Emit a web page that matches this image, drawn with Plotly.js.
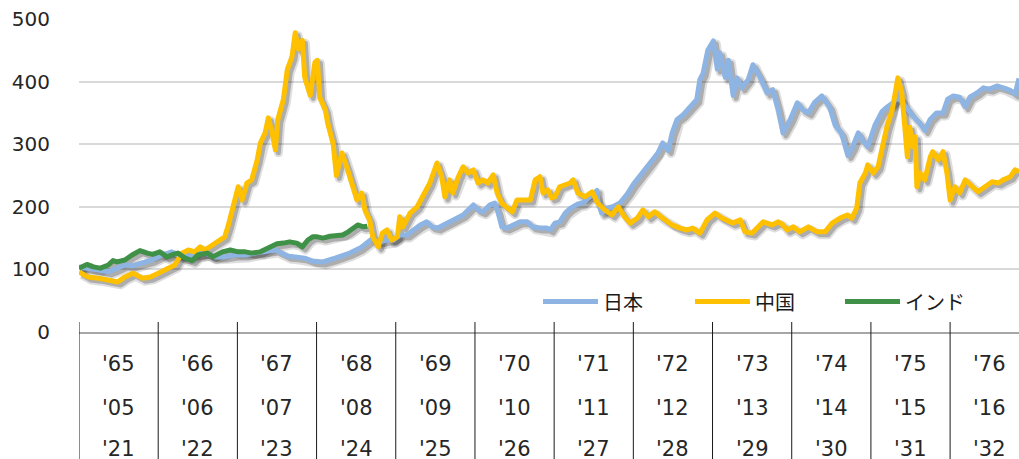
<!DOCTYPE html>
<html>
<head>
<meta charset="utf-8">
<script src="https://cdn.plot.ly/plotly-3.0.1.min.js"></script>
<style>
  html, body { margin: 0; padding: 0; background: #fff; }
  #chart { width: 1019px; height: 459px; }
</style>
</head>
<body>
<div id="chart"></div>
<script>
// ---- Data (x = years elapsed from the start of the first period) ----
const seriesNames = ["日本", "中国", "インド"];
const seriesColors = ["#8DB4E2", "#FFC000", "#3F9147"];

const japanT = [0.00,0.11,0.24,0.37,0.45,0.58,0.68,0.80,0.92,1.05,
 1.17,1.25,1.38,1.46,1.59,1.72,1.84,1.97,2.10,2.22,
 2.35,2.48,2.56,2.64,2.73,2.85,2.95,3.08,3.21,3.30,
 3.42,3.55,3.65,3.71,3.80,3.89,3.97,4.05,4.14,4.22,
 4.31,4.39,4.46,4.53,4.60,4.68,4.77,4.85,4.94,4.98,
 5.04,5.10,5.19,5.25,5.29,5.34,5.40,5.48,5.57,5.66,
 5.73,5.82,5.91,5.95,6.01,6.07,6.14,6.20,6.29,6.36,
 6.45,6.54,6.55,6.60,6.67,6.74,6.83,6.92,7.00,7.11,
 7.19,7.24,7.31,7.37,7.44,7.49,7.55,7.63,7.72,7.80,
 7.84,7.88,7.94,8.01,8.06,8.09,8.16,8.20,8.26,8.31,
 8.37,8.45,8.51,8.60,8.69,8.76,8.83,8.89,8.98,9.07,
 9.14,9.21,9.29,9.38,9.48,9.55,9.63,9.71,9.77,9.84,
 9.90,9.96,10.05,10.14,10.20,10.28,10.33,10.39,10.46,10.53,
 10.62,10.68,10.75,10.83,10.91,10.97,11.04,11.12,11.19,11.25,
 11.34,11.42,11.50,11.59,11.67,11.76,11.82,11.87];
const japanV = [104,102,99,96,100,107,106,110,115,123,
 128,123,120,123,126,120,120,123,123,126,
 128,131,126,121,120,118,113,112,117,120,
 126,134,144,150,144,147,147,155,155,163,
 171,176,168,166,171,176,182,187,198,203,
 195,192,203,206,192,168,166,171,176,176,
 168,166,166,163,174,176,190,197,204,206,
 215,226,211,190,198,200,206,220,236,254,
 266,275,286,302,290,318,339,347,359,371,
 403,413,450,465,420,446,407,434,378,406,
 390,403,427,407,382,387,355,318,339,366,
 355,350,367,377,359,330,317,282,296,318,
 305,296,330,352,359,366,375,368,357,345,
 333,322,340,350,350,372,377,375,360,375,
 382,390,388,393,390,386,380,405];

const chinaT = [0.00,0.11,0.24,0.37,0.49,0.58,0.68,0.80,0.90,1.00,
 1.11,1.21,1.30,1.38,1.46,1.53,1.59,1.68,1.76,1.84,
 1.88,1.93,1.97,2.01,2.06,2.12,2.18,2.25,2.29,2.35,
 2.39,2.44,2.48,2.51,2.58,2.63,2.69,2.73,2.77,2.82,
 2.85,2.92,2.98,3.01,3.04,3.11,3.14,3.21,3.25,3.32,
 3.38,3.45,3.51,3.57,3.61,3.67,3.71,3.78,3.83,3.89,
 3.95,4.02,4.05,4.09,4.18,4.27,4.34,4.43,4.52,4.58,
 4.62,4.68,4.72,4.79,4.85,4.91,4.98,5.04,5.10,5.16,
 5.23,5.28,5.34,5.40,5.47,5.53,5.61,5.70,5.76,5.82,
 5.86,5.92,5.97,6.01,6.07,6.14,6.20,6.24,6.30,6.39,
 6.48,6.55,6.64,6.73,6.81,6.89,6.96,7.05,7.12,7.19,
 7.27,7.37,7.49,7.59,7.68,7.75,7.84,7.93,8.03,8.12,
 8.25,8.35,8.41,8.50,8.57,8.64,8.75,8.83,8.89,8.94,
 9.02,9.10,9.21,9.32,9.42,9.51,9.61,9.70,9.76,9.82,
 9.86,9.93,9.96,10.03,10.09,10.14,10.20,10.27,10.30,10.34,
 10.39,10.43,10.46,10.49,10.53,10.56,10.58,10.62,10.68,10.75,
 10.78,10.85,10.91,10.96,11.00,11.06,11.12,11.19,11.28,11.35,
 11.44,11.53,11.61,11.67,11.76,11.82,11.87];
const chinaV = [96,88,86,83,80,88,94,86,88,94,
 102,107,126,131,128,136,131,139,144,152,
 168,195,216,232,211,238,243,275,302,318,
 342,318,291,339,371,419,440,478,452,466,
 407,378,431,434,375,355,334,300,250,286,
 264,232,211,222,195,179,152,136,158,163,
 147,152,184,168,190,200,216,238,270,248,
 216,243,222,248,264,254,259,238,243,238,
 251,222,206,200,192,211,211,211,243,248,
 222,227,214,216,232,235,238,243,222,216,
 224,206,195,187,200,184,174,182,195,184,
 192,182,171,166,163,166,158,179,190,182,
 174,179,160,158,166,176,171,176,171,163,
 168,160,168,160,160,174,182,187,182,198,
 238,254,267,254,264,291,327,355,382,406,
 382,327,280,327,296,312,232,254,243,280,
 288,275,288,254,211,232,222,243,232,224,
 232,240,238,243,248,259,256];

const indiaT = [0.00,0.04,0.10,0.18,0.27,0.37,0.43,0.48,0.58,0.67,
 0.77,0.86,0.93,1.02,1.11,1.19,1.25,1.34,1.43,1.50,
 1.62,1.69,1.81,1.91,2.01,2.10,2.18,2.29,2.39,2.50,
 2.58,2.66,2.75,2.82,2.89,2.95,3.01,3.08,3.17,3.26,
 3.33,3.40,3.46,3.52,3.59,3.64];
const indiaV = [102,104,108,104,102,107,114,112,115,123,
 130,126,124,128,120,124,126,118,114,123,
 126,120,128,131,128,128,126,128,134,141,
 142,144,142,136,147,152,152,150,153,155,
 155,160,166,171,168,169];

// Category labels (three period rows)
const periodRow1 = ["'65","'66","'67","'68","'69","'70","'71","'72","'73","'74","'75","'76"];
const periodRow2 = ["'05","'06","'07","'08","'09","'10","'11","'12","'13","'14","'15","'16"];
const periodRow3 = ["'21","'22","'23","'24","'25","'26","'27","'28","'29","'30","'31","'32"];
const yTicks = [0, 100, 200, 300, 400, 500];

// ---- Geometry helpers ----
const W = 1019, H = 459;
const M = {l: 79, r: 0, t: 19, b: 127};
const PW = W - M.l - M.r, PH = H - M.t - M.b;
const px2x = p => (p - M.l) / PW;
const py2y = p => (H - M.b - p) / PH;
const XR = [0, 11.87], YR = [0, 500];
// shadow offset: 3px right, 3px down (via shifted overlay axes)
const sdx = 3 * (XR[1] - XR[0]) / PW, sdy = 3 * (YR[1] - YR[0]) / PH;

const numFont = "DejaVu Sans, Verdana, sans-serif";
const cjkFont = "Noto Sans CJK JP, sans-serif";

const xs = [japanT, chinaT, indiaT];
const ys = [japanV, chinaV, indiaV];
const traces = [];
seriesNames.forEach((n, i) => {
  traces.push({type: "scatter", mode: "lines", name: n + " shadow", showlegend: false,
    x: xs[i], y: ys[i], xaxis: "x2", yaxis: "y2",
    line: {color: "rgba(0,0,0,0.13)", width: 9}, hoverinfo: "skip"});
  traces.push({type: "scatter", mode: "lines", name: n + " shadow", showlegend: false,
    x: xs[i], y: ys[i], xaxis: "x2", yaxis: "y2",
    line: {color: "rgba(0,0,0,0.22)", width: 5}, hoverinfo: "skip"});
});
seriesNames.forEach((n, i) => {
  traces.push({type: "scatter", mode: "lines", name: n,
    x: xs[i], y: ys[i], xaxis: "x3", yaxis: "y3",
    line: {color: seriesColors[i], width: 5}, hoverinfo: "skip"});
});

const shapes = [];
const annotations = [];
for (let i = 0; i < periodRow1.length; i++) {
  shapes.push({type: "line", xref: "x", yref: "paper", x0: i, x1: i,
    y0: py2y(322), y1: py2y(H + 2), line: {color: "#1a1a1a", width: 1}});
}
const rowY = [364, 408, 449];
[periodRow1, periodRow2, periodRow3].forEach((row, r) => {
  row.forEach((lab, i) => {
    annotations.push({xref: "x", yref: "paper", x: i + 0.5, y: py2y(rowY[r]),
      text: lab, showarrow: false, xanchor: "center", yanchor: "middle", borderpad: 0,
      font: {family: numFont, size: 21, color: "#262626"}});
  });
});
const legLineX = [543, 695, 845];
const legY = 301.5;
seriesNames.forEach((n, i) => {
  shapes.push({type: "line", xref: "paper", yref: "paper",
    x0: px2x(legLineX[i]), x1: px2x(legLineX[i] + 55),
    y0: py2y(legY), y1: py2y(legY),
    line: {color: seriesColors[i], width: 5}});
  annotations.push({xref: "paper", yref: "paper",
    x: px2x(legLineX[i] + 58), y: py2y(legY), text: n, showarrow: false,
    xanchor: "left", yanchor: "middle",
    font: {family: cjkFont, size: 20, color: "#1a1a1a"}});
});

const hiddenAx = {visible: false, showgrid: false, zeroline: false, fixedrange: true};
const layout = {
  width: W, height: H,
  margin: {l: M.l, r: M.r, t: M.t, b: M.b, pad: 0},
  paper_bgcolor: "#fff", plot_bgcolor: "#fff",
  showlegend: false,
  xaxis: {range: XR, showgrid: false, zeroline: false,
    showline: true, linecolor: "#A6A6A6", linewidth: 1.5,
    ticks: "", showticklabels: false, fixedrange: true},
  yaxis: {range: YR, tickmode: "array", tickvals: yTicks,
    showgrid: true, gridcolor: "#D9D9D9", gridwidth: 2,
    zeroline: false, showline: false, ticks: "",
    ticklabelstandoff: 28,
    tickfont: {family: numFont, size: 20, color: "#262626"}, fixedrange: true},
  xaxis2: Object.assign({overlaying: "x", anchor: "y2", range: [XR[0] - sdx, XR[1] - sdx]}, hiddenAx),
  yaxis2: Object.assign({overlaying: "y", anchor: "x2", range: [YR[0] + sdy, YR[1] + sdy]}, hiddenAx),
  xaxis3: Object.assign({overlaying: "x", anchor: "y3", range: XR}, hiddenAx),
  yaxis3: Object.assign({overlaying: "y", anchor: "x3", range: YR}, hiddenAx),
  shapes: shapes,
  annotations: annotations
};

Plotly.newPlot("chart", traces, layout, {displayModeBar: false, staticPlot: true}).then(gd => {
  gd.querySelectorAll(".scatterlayer .trace path.js-line").forEach(p => {
    p.style.strokeLinejoin = "round";
  });
});
</script>
</body>
</html>
